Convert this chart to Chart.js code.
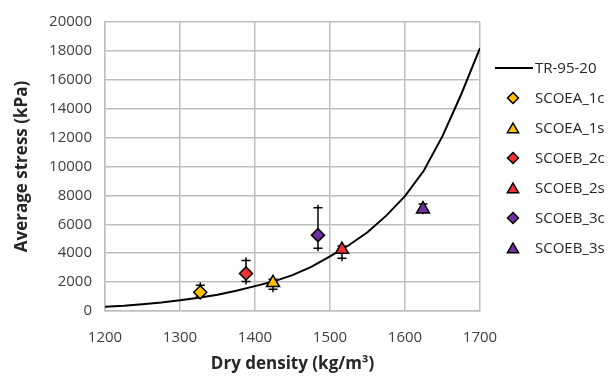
<!DOCTYPE html>
<html>
<head>
<meta charset="utf-8">
<script src="https://cdn.jsdelivr.net/npm/chart.js@4.4.1/dist/chart.umd.min.js"></script>
<style>
html,body{margin:0;padding:0;background:#fff;}
#wrap{width:615px;height:378px;position:relative;}
</style>
</head>
<body>
<div id="wrap"><canvas id="c" width="615" height="378"></canvas></div>
<script>
// Model curve TR-95-20
const curveX = [1200,1225,1250,1275,1300,1325,1350,1375,1400,1425,1450,1475,1500,1525,1550,1575,1600,1625,1650,1675,1700];
const curveY = [300,370,470,590,740,920,1130,1400,1720,2050,2480,3050,3780,4550,5450,6600,7950,9700,12100,15000,18200];

// Measured series
const seriesNames = ['SCOEA_1c','SCOEA_1s','SCOEB_2c','SCOEB_2s','SCOEB_3c','SCOEB_3s'];
const seriesX = [1327,1424,1388,1516,1484,1624];
const seriesY = [1300,1950,2600,4250,5250,7050];
const errLow  = [1000,1500,2050,3650,4350,6900];
const errHigh = [1780,2200,3500,4500,7150,7400];
const seriesColors = ['#FFC000','#FFC000','#F03232','#F03232','#7030A0','#7030A0'];
const seriesShapes = ['rectRot','triangle','rectRot','triangle','rectRot','triangle'];

const xTicks = [1200,1300,1400,1500,1600,1700];
const yTicks = [0,2000,4000,6000,8000,10000,12000,14000,16000,18000,20000];

const FONT = '"Open Sans", "Liberation Sans", sans-serif';
const GRID = '#BFBFBF';

const datasets = [{
  label: 'TR-95-20',
  data: curveX.map((x,i)=>({x, y: curveY[i]})),
  showLine: true,
  borderColor: '#000',
  borderWidth: 2,
  pointRadius: 0,
  tension: 0,
  order: 10
}];
seriesNames.forEach((n,i)=>{
  datasets.push({
    label: n,
    data: [{x: seriesX[i], y: seriesY[i]}],
    pointStyle: seriesShapes[i],
    pointRadius: seriesShapes[i]==='triangle' ? 7.5 : 6.5,
    backgroundColor: seriesColors[i],
    borderColor: '#000',
    pointBorderWidth: 1.5,
    borderWidth: 1.5,
    showLine: false,
    order: 1
  });
});

const errorBars = {
  id: 'errorBars',
  beforeDatasetsDraw(chart){
    const {ctx, scales:{x, y}} = chart;
    ctx.save();
    ctx.strokeStyle = '#000';
    ctx.lineWidth = 1.5;
    seriesNames.forEach((n,i)=>{
      const px = x.getPixelForValue(seriesX[i]);
      const pl = y.getPixelForValue(errLow[i]);
      const ph = y.getPixelForValue(errHigh[i]);
      ctx.beginPath();
      ctx.moveTo(px, pl + 3); ctx.lineTo(px, ph - 3);
      ctx.moveTo(px - 4.5, pl); ctx.lineTo(px + 4.5, pl);
      ctx.moveTo(px - 4.5, ph); ctx.lineTo(px + 4.5, ph);
      ctx.stroke();
    });
    ctx.restore();
  }
};

const legendPlugin = {
  id: 'customLegend',
  afterDraw(chart){
    const ctx = chart.ctx;
    ctx.save();
    ctx.font = '15px ' + FONT;
    ctx.textBaseline = 'middle';
    const lx = 495, tx = 535, y0 = 68, dy = 30, mx = 513;
    chart.data.datasets.forEach((ds, i)=>{
      const yy = y0 + i*dy;
      if (i === 0){
        ctx.strokeStyle = '#000'; ctx.lineWidth = 2;
        ctx.beginPath(); ctx.moveTo(lx, yy); ctx.lineTo(lx + 38, yy); ctx.stroke();
      } else {
        ctx.fillStyle = ds.backgroundColor; ctx.strokeStyle = '#000'; ctx.lineWidth = 1.5;
        ctx.beginPath();
        if (ds.pointStyle === 'triangle'){
          const r = 6.5, cy = yy + 1.5;
          ctx.moveTo(mx, cy - r);
          ctx.lineTo(mx + r*0.866, cy + r/2);
          ctx.lineTo(mx - r*0.866, cy + r/2);
        } else {
          const r = 5.5;
          ctx.moveTo(mx, yy - r); ctx.lineTo(mx + r, yy);
          ctx.lineTo(mx, yy + r); ctx.lineTo(mx - r, yy);
        }
        ctx.closePath(); ctx.fill(); ctx.stroke();
      }
      ctx.fillStyle = '#262626';
      ctx.fillText(ds.label, tx, yy + 1);
    });
    ctx.restore();
  }
};

new Chart(document.getElementById('c'), {
  type: 'scatter',
  data: { datasets },
  plugins: [errorBars, legendPlugin],
  options: {
    responsive: false,
    animation: false,
    devicePixelRatio: 1,
    layout: { padding: { left: 0, right: 135, top: 19, bottom: 0 } },
    plugins: { legend: { display: false }, tooltip: { enabled: false } },
    scales: {
      x: {
        type: 'linear', min: 1200, max: 1700,
        afterBuildTicks(s){ s.ticks = xTicks.map(v=>({value:v})); },
        afterFit(s){ s.height = 67; },
        grid: { color: GRID, lineWidth: 1.5, drawTicks: false },
        border: { color: GRID, width: 1.5 },
        ticks: { padding: 18, color: '#404040', font: { family: FONT, size: 15 }, maxRotation: 0,
                 callback: v => String(v) },
        title: { display: true, text: 'Dry density (kg/m³)', color: '#262626', font: { family: FONT, size: 17, weight: 'bold' }, padding: { top: 4 } }
      },
      y: {
        type: 'linear', min: 0, max: 20000,
        afterBuildTicks(s){ s.ticks = yTicks.map(v=>({value:v})); },
        afterFit(s){ s.width = 105; },
        grid: { color: GRID, lineWidth: 1.5, drawTicks: false },
        border: { color: GRID, width: 1.5 },
        ticks: { padding: 13, color: '#404040', font: { family: FONT, size: 15 },
                 callback: v => String(v) },
        title: { display: true, text: 'Average stress (kPa)', color: '#262626', font: { family: FONT, size: 17, weight: 'bold' }, padding: { top: 12, bottom: 0 } }
      }
    }
  }
});
</script>
</body>
</html>
